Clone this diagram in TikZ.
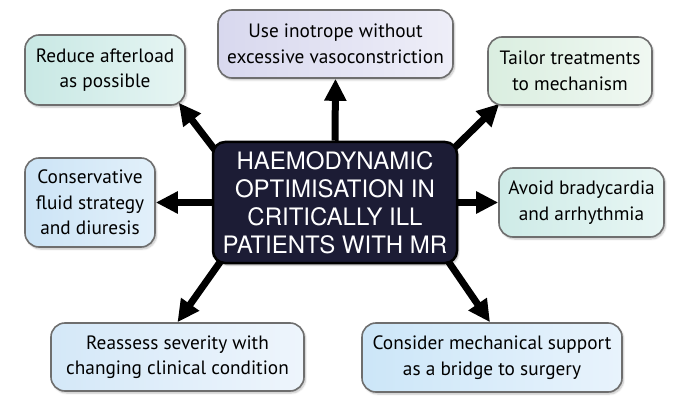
\documentclass[tikz,border=0pt]{standalone}
\usepackage{fontspec}
\newfontfamily\boxfont{PT Sans}
\newfontfamily\ctrfont{TeX Gyre Heros}
\usetikzlibrary{arrows.meta,calc,shadows.blur,backgrounds}
\definecolor{navy}{HTML}{1C1C35}
\definecolor{boxline}{HTML}{6E6E6E}
\tikzset{
  sbox/.style={draw=boxline, line width=1.6pt, rounded corners=14pt, inner sep=0pt,
    align=center, font=\boxfont\fontsize{19.3}{25.5}\selectfont, text=black,
    blur shadow={shadow xshift=1.5pt, shadow yshift=-2pt, shadow opacity=25, shadow blur steps=6}},
  cbox/.style={draw=black, line width=2.5pt, fill=navy, rounded corners=12pt, inner sep=0pt,
    align=center, text=white, font=\ctrfont\fontsize{24}{28}\selectfont,
    blur shadow={shadow xshift=1.5pt, shadow yshift=-2pt, shadow opacity=30, shadow blur steps=6}},
  arr/.style={line width=7pt, -{Triangle[length=22pt,width=21pt]}},
}
\begin{document}
\begin{tikzpicture}[x=1pt,y=-1pt]
\useasboundingbox (0,0) rectangle (680,409);
\node[cbox, minimum width=244pt, minimum height=121pt] (c) at (335,202.5)
  {HAEMODYNAMIC\\OPTIMISATION IN\\CRITICALLY ILL\\PATIENTS WITH MR};
\node[sbox, left color={rgb,255:red,216;green,216;blue,238}, right color={rgb,255:red,238;green,238;blue,248},
  minimum width=235pt, minimum height=68pt] (top) at (335.5,44)
  {Use inotrope without\\excessive vasoconstriction};
\node[sbox, left color={rgb,255:red,200;green,232;blue,228}, right color={rgb,255:red,230;green,245;blue,243},
  minimum width=160pt, minimum height=70pt] (ra) at (105,70)
  {Reduce afterload\\as possible};
\node[sbox, left color={rgb,255:red,218;green,238;blue,224}, right color={rgb,255:red,240;green,248;blue,242},
  minimum width=164pt, minimum height=68pt] (tt) at (570,71)
  {Tailor treatments\\to mechanism};
\node[sbox, left color={rgb,255:red,204;green,228;blue,246}, right color={rgb,255:red,226;green,240;blue,250},
  minimum width=130pt, minimum height=89pt] (cf) at (90,202.5)
  {Conservative\\fluid strategy\\and diuresis};
\node[sbox, left color={rgb,255:red,206;green,235;blue,231}, right color={rgb,255:red,232;green,246;blue,244},
  minimum width=165pt, minimum height=69pt] (ab) at (581.5,202.5)
  {Avoid bradycardia\\and arrhythmia};
\node[sbox, left color={rgb,255:red,212;green,232;blue,248}, right color={rgb,255:red,238;green,245;blue,252},
  minimum width=253pt, minimum height=68pt] (rs) at (177.5,357)
  {Reassess severity with\\changing clinical condition};
\node[sbox, left color={rgb,255:red,204;green,230;blue,248}, right color={rgb,255:red,232;green,243;blue,252},
  minimum width=260pt, minimum height=69pt] (cm) at (492,357.5)
  {Consider mechanical support\\as a bridge to surgery};
\begin{scope}[on background layer]
  \draw[arr] (c.north) -- (top.south);
  \draw[arr] ($(c.north west)+(13,22)$) -- ($(ra.south east)+(-7,-3)$);
  \draw[arr] ($(c.north east)+(-19,22)$) -- ($(tt.south west)+(12,-2)$);
  \draw[arr] (c.west) -- (cf.east);
  \draw[arr] (c.east) -- (ab.west);
  \draw[arr] ($(c.south west)+(16,-13)$) -- (rs.north);
  \draw[arr] ($(c.south east)+(-19,-16)$) -- ($(cm.north)+(-2,0)$);
\end{scope}
\end{tikzpicture}
\end{document}
